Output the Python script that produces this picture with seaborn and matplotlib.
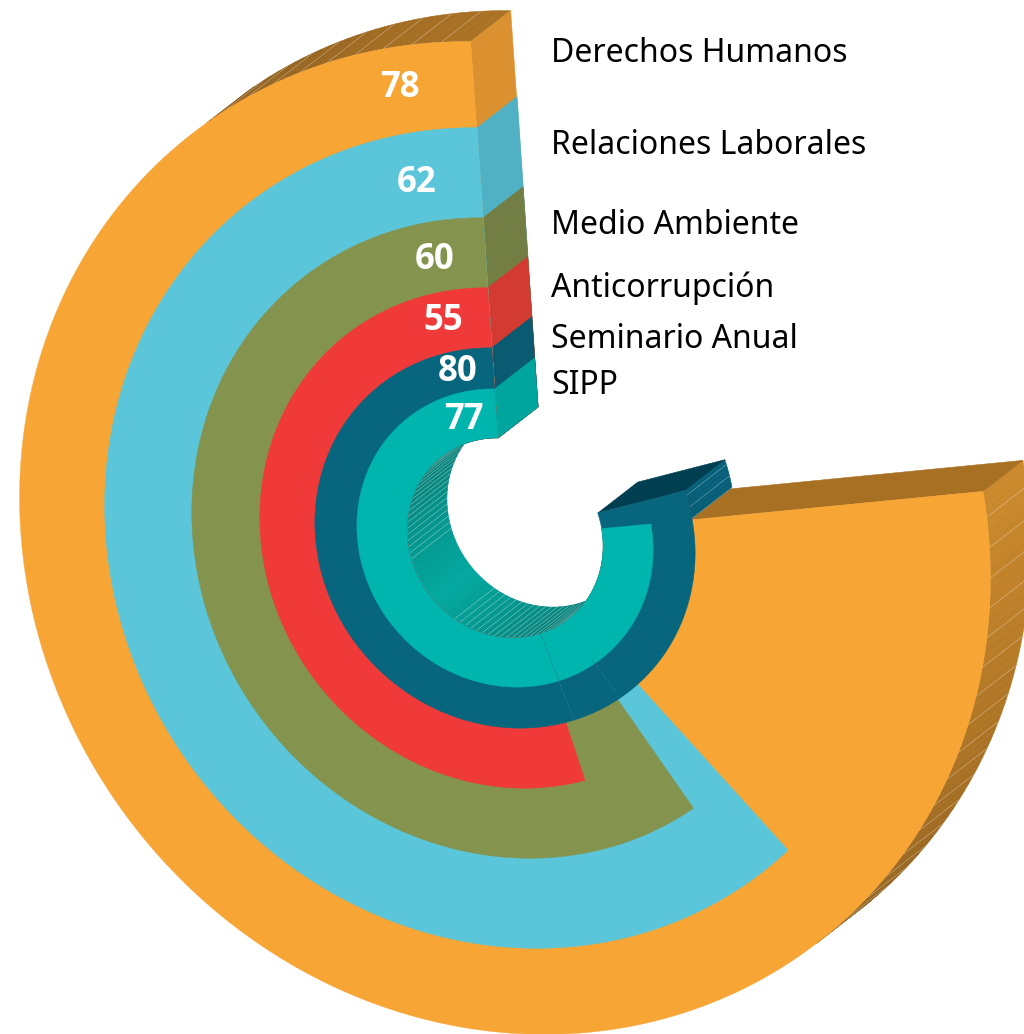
import numpy as np
import matplotlib
matplotlib.use('Agg')
import matplotlib.pyplot as plt
import seaborn as sns

# Values
programas = ['Derechos Humanos', 'Relaciones Laborales', 'Medio Ambiente',
             'Anticorrupción', 'Seminario Anual', 'SIPP']
valores = [78, 62, 60, 55, 80, 77]
# arc each ring really covers in the picture, degrees (not quite linear with the value)
barrido = [276, 221, 213, 195, 285, 276]

# Ring colours: front, start face, side light, side dark, end face
frente = ['#f7a535', '#5bc6d9', '#84944f', '#ef3a39', '#07667e', '#00b5ae']
cara_ini = ['#dc9130', '#50b0c4', '#737e45', '#d33a32', '#0a5a72', '#00a69e']
lado_claro = ['#cc8a2e', '#4aa5b8', '#6c7640', '#c0342c', '#07607a', '#009b93']
lado_oscuro = ['#8f5f1e', '#3f8fa0', '#5c6636', '#a52c26', '#054f64', '#008078']
cara_fin = ['#a87023', '#3f8fa0', '#5c6636', '#a52c26', '#003f52', '#008078']

# Layout in image pixels (rings are ellipses tilted by the view, E is the tilt)
CX, CY = 505, 538
RX = [485, 400, 313, 245, 190, 148]
RY = [496, 410, 320, 250, 190, 149]
E = [20, 16, 12.6, 10, 7.6, 6]
RX_IN, RY_IN, E_IN = 98, 100, 4
DX, DY = 40, -31
INICIO = 1.7
PASO = 3.5

etiq_x = [400, 417, 435, 443, 458, 464]
etiq_y = [85, 180, 257, 318, 369, 417]
leyenda_y = [51, 143, 223, 285, 336, 383]


def punto(a, rx, ry, e, d=0):
    a = np.radians(a)
    x = CX - rx * np.sin(a) - e * np.cos(a) + d * DX
    y = CY - ry * np.cos(a) - e * np.sin(a) + d * DY
    return x, y


def mira_afuera(a, rx, ry, e):
    # the top-left wall tapers off a little early in the reference
    if 35 < a < 100:
        return False
    r = np.radians(a)
    tx = -rx * np.cos(r) + e * np.sin(r)
    ty = ry * np.sin(r) - e * np.cos(r)
    return -ty * DX + tx * DY > 0


def hueco_visible(a, rx, ry, e):
    r = np.radians(a)
    tx = -rx * np.cos(r) + e * np.sin(r)
    ty = ry * np.sin(r) - e * np.cos(r)
    return -ty * DX + tx * DY <= 0


def cuadro(a0, a1, rx, ry, e, color):
    x0, y0 = punto(a0, rx, ry, e)
    x1, y1 = punto(a1, rx, ry, e)
    x2, y2 = punto(a1, rx, ry, e, 1)
    x3, y3 = punto(a0, rx, ry, e, 1)
    ax.fill([x0, x1, x2, x3], [y0, y1, y2, y3], color=color, lw=0.4, zorder=1)


def cara(a, i, color):
    x0, y0 = punto(a, RX_IN, RY_IN, E_IN)
    x1, y1 = punto(a, RX[i], RY[i], E[i])
    x2, y2 = punto(a, RX[i], RY[i], E[i], 1)
    x3, y3 = punto(a, RX_IN, RY_IN, E_IN, 1)
    ax.fill([x0, x1, x2, x3], [y0, y1, y2, y3], color=color, lw=0.4, zorder=1)


def raya(a, rx, ry, e, alpha):
    x0, y0 = punto(a, rx, ry, e)
    x1, y1 = punto(a, rx, ry, e, 1)
    ax.plot([x0, x1], [y0, y1], color='white', lw=0.5, alpha=alpha, zorder=1)


sns.set_theme(style='white')
plt.rcParams['font.family'] = ['Noto Sans', 'DejaVu Sans']

fig = plt.figure(figsize=(10.24, 10.34), dpi=100)
ax = fig.add_axes([0, 0, 1, 1])
ax.set_xlim(0, 1024)
ax.set_ylim(1034, 0)
ax.axis('off')

# Side faces first, outer ring to inner ring
for i in range(len(valores)):
    fin = INICIO + barrido[i]
    # an outer ring that reaches further hides this ring's wall and end
    tapa = max(INICIO + b for b in barrido[:i]) if i else 0
    pal = sns.blend_palette([lado_claro[i], lado_oscuro[i]], 33)
    angulos = np.append(np.arange(INICIO, fin, PASO / 3), fin)
    for a0, a1 in zip(angulos[:-1], angulos[1:]):
        am = (a0 + a1) / 2
        if am < tapa or not mira_afuera(am, RX[i], RY[i], E[i]):
            continue
        t = np.interp(am, [INICIO, 38, 218, fin], [0.55, 1, 1, 0])
        cuadro(a0, a1, RX[i], RY[i], E[i], pal[int(t * 32)])
    for a in np.arange(INICIO + PASO, fin, PASO):
        if a >= tapa and mira_afuera(a, RX[i], RY[i], E[i]):
            raya(a, RX[i], RY[i], E[i], 0.35)
    if fin >= tapa:
        cara(fin, i, cara_fin[i])
    cara(INICIO, i, cara_ini[i])

# Wall of the central hole
pal = sns.blend_palette(['#00a79e', '#00726b'], 33)
angulos = np.arange(INICIO, INICIO + barrido[-1], PASO / 3)
for a0, a1 in zip(angulos[:-1], angulos[1:]):
    am = (a0 + a1) / 2
    if not hueco_visible(am, RX_IN, RY_IN, E_IN):
        continue
    t = np.interp(am, [38, 131, 218], [1, 0, 1])
    cuadro(a0, a1, RX_IN, RY_IN, E_IN, pal[int(t * 32)])
for a in np.arange(38, 218, PASO):
    if not 105 < a < 145:
        raya(a, RX_IN, RY_IN, E_IN, 0.4)

# Front faces on top
for i in range(len(valores)):
    ang = np.linspace(INICIO, INICIO + barrido[i], 300)
    xe, ye = punto(ang, RX[i], RY[i], E[i])
    xi, yi = punto(ang[::-1], RX_IN, RY_IN, E_IN)
    ax.fill(np.r_[xe, xi], np.r_[ye, yi], color=frente[i], lw=0.3, zorder=1)

# Faint seams on the two inner rings
x0, y0 = punto(199, RX_IN, RY_IN, E_IN)
x1, y1 = punto(199, RX[4], RY[4], E[4])
ax.plot([x0, x1], [y0, y1], color='#1b8291', lw=0.5, alpha=0.7, zorder=1)
x0, y0 = punto(215, RX[5] - 4, RY[5] - 4, E[5])
x1, y1 = punto(215, RX[4] - 8, RY[4] - 8, E[4])
ax.plot([x0, x1], [y0, y1], color='#1b8291', lw=0.5, alpha=0.7, zorder=1)

# Labels
for x, y, v in zip(etiq_x, etiq_y, valores):
    ax.text(x, y + 3, str(v), color='white', fontsize=25, fontweight='bold',
            family=['Open Sans', 'DejaVu Sans'], ha='center', va='center')
for y, p in zip(leyenda_y, programas):
    ax.text(551, y + 3, p, color='black', fontsize=23, ha='left', va='center')

fig.savefig('out.png', dpi=100)
